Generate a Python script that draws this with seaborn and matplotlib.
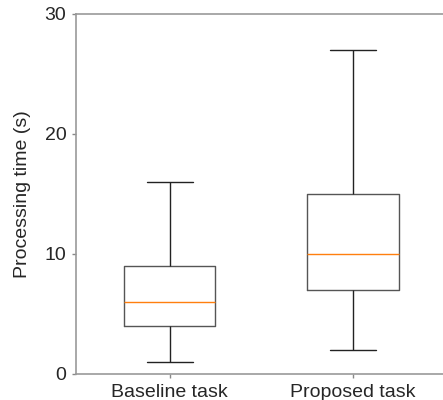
import pandas as pd
import seaborn as sns
import matplotlib.pyplot as plt

# five-number summaries (min, Q1, median, Q3, max)
tasks = ["Baseline task", "Proposed task"]
baseline_times = [1, 4, 6, 9, 16]
proposed_times = [2, 7, 10, 15, 27]

df = pd.DataFrame({
    "task": [tasks[0]] * len(baseline_times) + [tasks[1]] * len(proposed_times),
    "time": baseline_times + proposed_times,
})

sns.set_style("ticks")
plt.rcParams["font.family"] = ["Liberation Sans", "DejaVu Sans"]

fig = plt.figure(figsize=(4.43, 4.0), dpi=100)
ax = fig.add_axes([76 / 443, 26 / 400, 367 / 443, 360 / 400])

sns.boxplot(data=df, x="task", y="time", ax=ax, width=0.5, whis=(0, 100),
            fill=False, color="#333333", linewidth=1.0,
            boxprops={"color": "#555555"},
            whiskerprops={"color": "#222222"},
            capprops={"color": "#222222"},
            medianprops={"color": "#ff7f0e", "linewidth": 1.0})

ax.set_xlim(-0.51, 1.49)
ax.set_ylim(0, 30)
ax.set_yticks([0, 10, 20, 30])
ax.set_xlabel("")
ax.set_ylabel("Processing time (s)", fontsize=14, labelpad=10)
ax.tick_params(axis="both", labelsize=14, color="#888888", length=3, width=1, pad=4)

for side in ["left", "top", "bottom"]:
    ax.spines[side].set_color("#999999")
    ax.spines[side].set_linewidth(1.2)
ax.spines["right"].set_visible(False)

fig.savefig("out.png", dpi=100)
